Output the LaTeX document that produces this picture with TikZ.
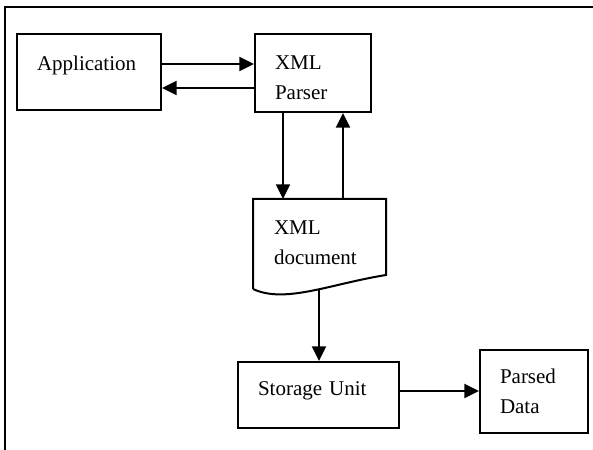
\documentclass[tikz,border=0pt]{standalone}
\usepackage{fontspec}
\setmainfont{Liberation Serif}
\usepackage{tikz}
\usetikzlibrary{arrows.meta,calc}

\begin{document}
\begin{tikzpicture}[x=0.75pt,y=0.75pt,
    box/.style={draw,line width=1.5pt,inner xsep=15pt,inner ysep=0pt,
                align=left,anchor=north west,
                font=\fontsize{15.75}{22.5}\selectfont},
    arr/.style={line width=1.4pt,-{Triangle[length=11pt,width=10.5pt]}}]
\useasboundingbox (0,0) rectangle (593,450);
\draw[line width=1pt] (5,0) -- (5,443) -- (593,443);

\node[box,text width=78pt,text height=27.75pt,text depth=29.25pt]
  (app) at (16,417) {Application};
\node[box,text width=57pt,text height=27pt,text depth=31.5pt]
  (parser) at (254,417) {XML\\Parser};
\node[box,draw=none,text width=68.25pt,text height=26.25pt,text depth=39.75pt]
  (doc) at (253,251) {XML\\document};
\node[box,text width=90.75pt,text height=25.5pt,text depth=24pt]
  (store) at (237,89) {Storage Unit};
\node[box,text width=51pt,text height=25.5pt,text depth=36.75pt]
  (parsed) at (479,101) {Parsed\\Data};

% document outline with wavy bottom
\draw[line width=1.5pt] (doc.south west) -- (doc.north west) -- (doc.north east)
  -- ($(doc.south east)+(0,14)$)
  .. controls ($(doc.south west)+(77,5)$) and ($(doc.south west)+(32,-15)$)
  .. coordinate[pos=0.45] (docbot) (doc.south west);

\coordinate (down) at ($(parser.south)+(-30,0)$);
\coordinate (up) at ($(parser.south)+(30,0)$);
\coordinate (mid) at ($(store.north)+(0.5,0)$);

\draw[arr] ([yshift=6pt]app.east) -- ([yshift=6pt]app.east -| parser.west);
\draw[arr] ([yshift=-12pt]app.east -| parser.west) -- ([yshift=-12pt]app.east);
\draw[arr] (down) -- (down |- doc.north);
\draw[arr] (up |- doc.north) -- (up);
\draw[arr] (mid |- docbot) -- (mid);
\draw[arr] ([yshift=3pt]store.east) -- ([yshift=3pt]store.east -| parsed.west);
\end{tikzpicture}
\end{document}
